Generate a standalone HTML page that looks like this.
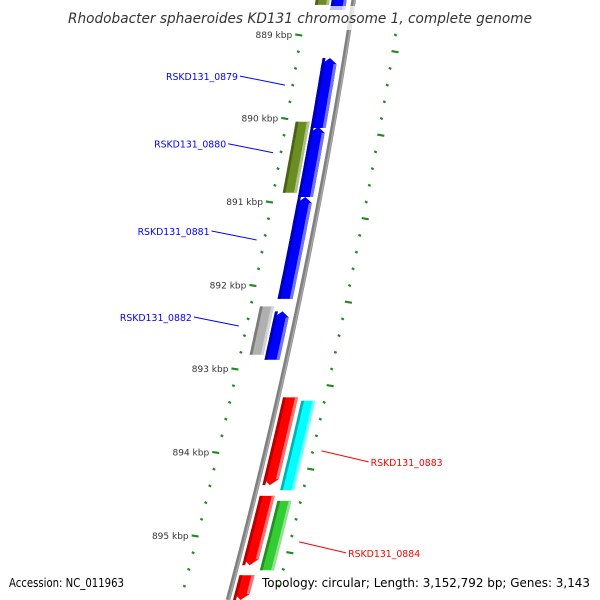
<!DOCTYPE html>
<html><head><meta charset="utf-8"><style>
html,body{margin:0;padding:0;background:#fff;width:600px;height:600px;overflow:hidden;}
svg{display:block;font-family:"DejaVu Sans","Liberation Sans",sans-serif;overflow:hidden;}
</style></head><body>
<svg id="map" width="600" height="600" viewBox="0 0 600 600"></svg>
<script>
// ---- data ----
const kbpTicks = [889, 890, 891, 892, 893, 894, 895];
const geneNames = ["top-blue","top-olive","RSKD131_0879","RSKD131_0880","olive-gene","RSKD131_0881","grey-gene","RSKD131_0882","red-gene-1","cyan-gene","red-gene-2","green-gene","red-gene-3"];
const geneStarts = [888.20, 888.20, 889.275, 890.10, 890.04, 890.94, 892.25, 892.31, 893.34, 893.38, 894.52, 894.58, 895.47];
const geneEnds   = [888.70, 888.64, 890.114, 890.94, 890.89, 892.16, 892.83, 892.89, 894.39, 894.45, 895.35, 895.41, 896.50];
const geneRings  = ["fwd","fwdOuter","fwd","fwd","fwdOuter","fwd","fwdOuter","fwd","rev","revOuter","rev","revOuter","rev"];
const geneColors = ["#0000ff","#6b8e23","#0000ff","#0000ff","#6b8e23","#0000ff","#b0b0b0","#0000ff","#ff0000","#00ffff","#ff0000","#33cc33","#ff0000"];
const geneArrows = ["up","none","up","up","none","up","none","up","down","none","down","none","down"];
const labelNames = ["RSKD131_0879","RSKD131_0880","RSKD131_0881","RSKD131_0882","RSKD131_0883","RSKD131_0884"];
const labelKbp   = [889.60, 890.41, 891.455, 892.485, 893.98, 895.07];
const labelSide  = ["left","left","left","left","right","right"];

// ---- scales ----
const PX_PER_KBP = 83.5, Y0 = 35;
function yOf(k){ return Y0 + (k - 889) * PX_PER_KBP; }
function bx(y){ return 353.66 - 0.1526*y - 9.48e-5*y*y; }
const ringOff = {fwd:[-22,-7], fwdOuter:[-38,-24], rev:[5,20], revOuter:[24,38]};

const svg = document.getElementById('map');
const NS = 'http://www.w3.org/2000/svg';
function mk(tag, attrs, parent){ const e=document.createElementNS(NS,tag); for(const k in attrs) e.setAttribute(k,attrs[k]); (parent||svg).appendChild(e); return e; }

// backbone
let d='';
for(let y=-10;y<=600;y+=5){ d += (y===-10?'M':'L') + bx(y).toFixed(2)+','+y+' '; }
const bb = mk('path',{d:d,stroke:'#808080','stroke-width':4.5,fill:'none'});


const bb2 = mk('path',{d:d,stroke:'#a8a8a8','stroke-width':1.5,fill:'none',transform:'translate(1,0)'});



// tick rings
for(let k=888.0;k<=896.2;k+=0.2){
  const kk=Math.round(k*10)/10;
  const y=yOf(kk);
  if(y<28||y>598) continue;
  const major = Math.abs(kk-Math.round(kk))<0.01;
  const xl=bx(y)-46;
  const len = major?7:2.5;
  const t=mk('line',{x1:xl-len,y1:y-0.6,x2:xl,y2:y+0.6,stroke:'#228b22','stroke-width':2.2});
  
  
  const majR = Math.abs((kk-0.2)-Math.round(kk-0.2))<0.01;
  const xr=bx(y)+46;
  const lenR = majR?7:2.5;
  const t2=mk('line',{x1:xr,y1:y-0.6,x2:xr+lenR,y2:y+0.6,stroke:'#228b22','stroke-width':2.2});
  
  
}
kbpTicks.forEach(k=>{
  const y=yOf(k);
  const t=mk('text',{x:bx(y)-56,y:y+3,'font-size':9,fill:'#333','text-anchor':'end'});
  t.textContent=k+' kbp';
  
  
});

// genes
function shade(hex,f){ const n=parseInt(hex.slice(1),16); let r=n>>16,g=(n>>8)&255,b=n&255;
  const c=v=>Math.round(f<1?v*f:v+(255-v)*(f-1)); return 'rgb('+c(r)+','+c(g)+','+c(b)+')'; }
function band(y1,y2,o1,o2,arrow,fill,name){
  const pts=[]; const tip=6, mid=(o1+o2)/2;
  const a = arrow==='up'?y1+tip:y1, b=arrow==='down'?y2-tip:y2;
  if(arrow==='up') pts.push([bx(y1)+mid,y1]);
  for(let y=a;y<=b;y+=4) pts.push([bx(y)+o2,y]);
  pts.push([bx(b)+o2,b]);
  if(arrow==='down') pts.push([bx(y2)+mid,y2]);
  pts.push([bx(b)+o1,b]);
  for(let y=b;y>=a;y-=4) pts.push([bx(y)+o1,y]);
  pts.push([bx(a)+o1,a]);
  const p=mk('polygon',{points:pts.map(p=>p[0].toFixed(1)+','+p[1].toFixed(1)).join(' '),fill:fill});
  
  
}
geneNames.forEach((n,i)=>{
  const y1=yOf(geneStarts[i]), y2=Math.min(yOf(geneEnds[i]),600);
  const [o1,o2]=ringOff[geneRings[i]];
  const c=geneColors[i], w=o2-o1;
  band(y1,y2,o1,o2,geneArrows[i],c,'gene-'+n);
  band(y1,y2,o1,o1+w*0.2,'none',shade(c,0.7),'gene-shadow-'+n);
  band(y1+(geneArrows[i]==='up'?6:0),y2-(geneArrows[i]==='down'?6:0),o2-w*0.2,o2,'none',shade(c,1.45),'gene-highlight-'+n);
});

// labels
labelNames.forEach((n,i)=>{
  const y=yOf(labelKbp[i]);
  const left=labelSide[i]==='left';
  const col=left?'#0000ff':'#ff0000';
  const x0 = left? bx(y)-55 : bx(y)+56;
  const x1 = left? x0-45 : x0+47;
  const y1 = left? y-9 : y+11;
  const ln=mk('line',{x1:x0,y1:y,x2:x1,y2:y1,stroke:col,'stroke-width':1});
  
  
  const t=mk('text',{x:left?x1-2:x1+2,y:y1+4,'font-size':10,fill:col,'text-anchor':left?'end':'start',textLength:72,lengthAdjust:'spacingAndGlyphs'});
  t.textContent=n;
  
  
});

// title
const tb=mk('rect',{x:60,y:6,width:480,height:24,fill:'rgba(255,255,255,0.75)'});


const title=mk('text',{x:68,y:23,'font-size':14,'font-style':'italic',fill:'#333',textLength:464,lengthAdjust:'spacingAndGlyphs'});
title.textContent='Rhodobacter sphaeroides KD131 chromosome 1, complete genome';



const acc=mk('text',{x:9,y:587,'font-size':12.5,fill:'#000',textLength:115,lengthAdjust:'spacingAndGlyphs'});
acc.textContent='Accession: NC_011963';


const topo=mk('text',{x:262,y:587,'font-size':12.5,fill:'#000',textLength:328,lengthAdjust:'spacingAndGlyphs'});
topo.textContent='Topology: circular; Length: 3,152,792 bp; Genes: 3,143';


</script>
</body></html>
